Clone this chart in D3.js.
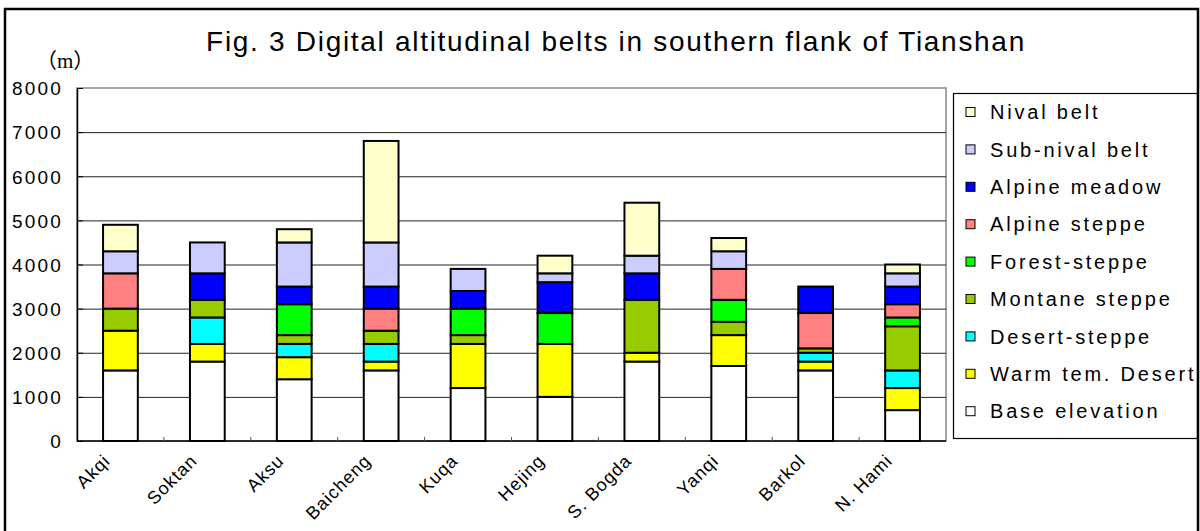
<!DOCTYPE html>
<html>
<head>
<meta charset="utf-8">
<script src="https://cdn.jsdelivr.net/npm/d3@7"></script>
<style>
  body { margin: 0; background: #fff; }
  text { font-family: Arial, "Liberation Sans", sans-serif; fill: #000; }
</style>
</head>
<body>
<svg id="chart"></svg>
<script>
// stations along the southern flank, west to east
var sites = ['Akqi', 'Soktan', 'Aksu', 'Baicheng', 'Kuqa', 'Hejing', 'S. Bogda', 'Yanqi', 'Barkol', 'N. Hami']

// thickness of each belt (m)
var baseElevation = [1600, 1800, 1400, 1600, 1200, 1000, 1800, 1700, 1600, 700]
var warmDesert    = [900, 400, 500, 200, 1000, 1200, 200, 700, 200, 500]
var desertSteppe  = [0, 600, 300, 400, 0, 0, 0, 0, 200, 400]
var montaneSteppe = [500, 400, 200, 300, 200, 0, 1200, 300, 100, 1000]
var forestSteppe  = [0, 0, 700, 0, 600, 700, 0, 500, 0, 200]
var alpineSteppe  = [800, 0, 0, 500, 0, 0, 0, 700, 800, 300]
var alpineMeadow  = [0, 600, 400, 500, 400, 700, 600, 0, 600, 400]
var subNival      = [500, 700, 1000, 1000, 500, 200, 400, 400, 0, 300]
var nival         = [600, 0, 300, 2300, 0, 400, 1200, 300, 0, 200]

var belts = ['Base elevation', 'Warm tem. Desert', 'Desert-steppe', 'Montane steppe',
             'Forest-steppe', 'Alpine steppe', 'Alpine meadow', 'Sub-nival belt', 'Nival belt']
var beltValues = [baseElevation, warmDesert, desertSteppe, montaneSteppe,
                  forestSteppe, alpineSteppe, alpineMeadow, subNival, nival]
var beltColors = ['#ffffff', '#ffff00', '#00ffff', '#99cc00',
                  '#00ff00', '#ff8080', '#0000ff', '#ccccff', '#ffffcc']

var yTicks = [0, 1000, 2000, 3000, 4000, 5000, 6000, 7000, 8000]

var W = 1200, H = 531
var margin = {left: 77, right: 254, top: 88, bottom: 90}

var svg = d3.select('#chart')
    .attr('width', W)
    .attr('height', H)

// outer frame
svg.append('rect')
    .attr('x', 5).attr('y', 9)
    .attr('width', 1193).attr('height', 540)
    .attr('fill', 'none')
    .attr('stroke', '#000')
    .attr('stroke-width', 2.5)

svg.append('text')
    .attr('x', 616).attr('y', 51)
    .attr('text-anchor', 'middle')
    .style('font-size', '28px')
    .style('letter-spacing', '1.7px')
    .text('Fig. 3 Digital altitudinal belts in southern flank of Tianshan')

svg.append('text')
    .attr('x', 36).attr('y', 68)
    .style('font-family', '"Liberation Serif", "Noto Sans CJK SC", serif')
    .style('font-size', '21px')
    .text('（m）')

var table = sites.map(function(s, i) {
  var row = {site: s}
  belts.forEach(function(b, j) { row[b] = beltValues[j][i] })
  return row
})

var series = d3.stack().keys(belts)(table)

var x = d3.scaleBand()
    .domain(sites)
    .range([margin.left, W - margin.right])
    .paddingInner(0.6)
    .paddingOuter(0.3)

var y = d3.scaleLinear()
    .domain([0, 8000])
    .range([H - margin.bottom, margin.top])

var color = d3.scaleOrdinal().domain(belts).range(beltColors)

// plot area
svg.append('rect')
    .attr('x', margin.left).attr('y', y(8000))
    .attr('width', W - margin.right - margin.left)
    .attr('height', y(0) - y(8000))
    .attr('fill', '#fff')
    .attr('stroke', '#888')
    .attr('stroke-width', 1.5)

svg.append('g')
    .selectAll('line')
    .data(yTicks.slice(1, -1))
  .enter().append('line')
    .attr('x1', margin.left).attr('x2', W - margin.right)
    .attr('y1', function(d) { return y(d) + 0.5 })
    .attr('y2', function(d) { return y(d) + 0.5 })
    .attr('stroke', '#222')

var yAxis = svg.append('g')
    .attr('transform', 'translate(' + margin.left + ',0)')
    .call(d3.axisLeft(y).tickValues(yTicks).tickFormat(d3.format('d'))
      .tickSizeInner(-6).tickSizeOuter(0).tickPadding(14))
yAxis.select('.domain').attr('stroke', '#000').attr('stroke-width', 1.5)
yAxis.selectAll('.tick line').attr('stroke', '#000')
yAxis.selectAll('.tick text')
    .style('font-size', '19px')
    .style('letter-spacing', '2.2px')
    .style('font-family', 'Arial, "Liberation Sans", sans-serif')
    .attr('dy', '0.36em')

var groups = svg.append('g')
    .selectAll('g')
    .data(series)
  .enter().append('g')
    .attr('fill', function(d) { return color(d.key) })

groups.selectAll('rect')
    .data(function(d) { return d.filter(function(p) { return p[1] > p[0] }) })
  .enter().append('rect')
    .attr('x', function(d) { return x(d.data.site) })
    .attr('width', x.bandwidth())
    .attr('y', function(d) { return y(d[1]) })
    .attr('height', function(d) { return y(d[0]) - y(d[1]) })
    .attr('stroke', '#000')
    .attr('stroke-width', 2)

// category axis
svg.append('line')
    .attr('x1', margin.left).attr('x2', W - margin.right)
    .attr('y1', y(0)).attr('y2', y(0))
    .attr('stroke', '#000')
    .attr('stroke-width', 1.5)

var step = x.step()
svg.append('g')
    .selectAll('line')
    .data(sites.slice(1))
  .enter().append('line')
    .attr('x1', function(d) { return x(d) - step * x.paddingInner() / 2 })
    .attr('x2', function(d) { return x(d) - step * x.paddingInner() / 2 })
    .attr('y1', y(0)).attr('y2', y(0) - 4)
    .attr('stroke', '#555')

svg.append('g')
    .selectAll('text')
    .data(sites)
  .enter().append('text')
    .attr('transform', function(d) {
      return 'translate(' + (x(d) + x.bandwidth() / 2 - 18) + ',' + (y(0) + 12) + ') rotate(-45)'
    })
    .attr('text-anchor', 'end')
    .attr('dy', '0.7em')
    .style('font-size', '18px')
    .style('letter-spacing', '1px')
    .text(function(d) { return d })

// legend
var legend = svg.append('g')
svg.append('rect')
    .attr('x', 953.5).attr('y', 93.5)
    .attr('width', 244).attr('height', 345)
    .attr('fill', 'none')
    .attr('stroke', '#000')
    .attr('stroke-width', 1.2)

var items = legend.selectAll('g')
    .data(belts.slice().reverse())
  .enter().append('g')
    .attr('transform', function(d, i) { return 'translate(966,' + (112 + i * 37.4) + ')' })

items.append('rect')
    .attr('x', 0).attr('y', -4.5)
    .attr('width', 9).attr('height', 9)
    .attr('fill', function(d) { return color(d) })
    .attr('stroke', '#000')

items.append('text')
    .attr('x', 24).attr('y', 0)
    .attr('dy', '0.36em')
    .style('font-size', '20px')
    .style('letter-spacing', '2.8px')
    .text(function(d) { return d })
</script>
</body>
</html>
